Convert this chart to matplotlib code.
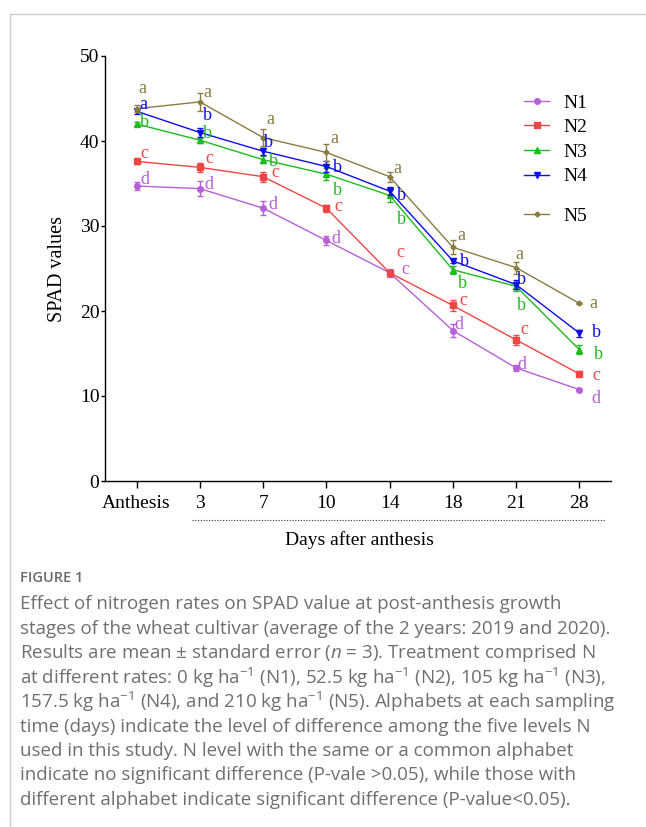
import matplotlib
matplotlib.use("Agg")
import matplotlib.pyplot as plt
from matplotlib.lines import Line2D
import numpy as np

plt.rcParams['mathtext.fontset'] = 'custom'
plt.rcParams['mathtext.rm'] = 'Open Sans'
plt.rcParams['mathtext.it'] = 'Open Sans:italic'

# ---------------- data ----------------
categories = ["Anthesis", "3", "7", "10", "14", "18", "21", "28"]
series_names = ["N1", "N2", "N3", "N4", "N5"]

n1 = [34.7, 34.4, 32.1, 28.3, 24.5, 17.7, 13.3, 10.75]
n2 = [37.6, 36.9, 35.8, 32.1, 24.5, 20.65, 16.6, 12.6]
n3 = [42.0, 40.1, 37.8, 36.1, 33.6, 24.85, 22.9, 15.45]
n4 = [43.5, 41.0, 38.8, 37.0, 34.1, 25.9, 23.1, 17.4]
n5 = [43.8, 44.6, 40.4, 38.65, 35.8, 27.5, 25.1, 20.9]

n1_err = [0.5, 0.85, 0.8, 0.5, 0.5, 0.8, 0.4, 0.1]
n2_err = [0.3, 0.5, 0.6, 0.4, 0.3, 0.7, 0.6, 0.3]
n3_err = [0.2, 0.3, 0.4, 0.7, 0.8, 0.5, 0.5, 0.5]
n4_err = [0.3, 0.5, 0.4, 0.6, 0.5, 0.2, 0.5, 0.4]
n5_err = [0.4, 1.05, 1.0, 1.0, 0.6, 0.8, 0.7, 0.1]

n1_letters = ["d", "d", "d", "d", "c", "d", "d", "d"]
n2_letters = ["c", "c", "c", "c", "c", "c", "c", "c"]
n3_letters = ["b", "b", "b", "b", "b", "b", "b", "b"]
n4_letters = ["a", "b", "b", "b", "b", "b", "b", "b"]
n5_letters = ["a", "a", "a", "a", "a", "a", "a", "a"]

# ---------------- styles / layout ----------------
colors = ["#b65fd8", "#f04545", "#1cbc1c", "#0c0cee", "#8a7b42"]
markers = ["o", "s", "^", "v", "D"]
msizes = [4.0, 4.8, 4.2, 4.2, 2.6]

# letter offsets in pixels (dx right, dy up) from each point to letter centre
n1_off = [(8, 9), (9, 6), (10, 6), (9, 4), (16, 3), (6, 8), (6, 6), (17, -7)]
n2_off = [(8, 8), (10, 9), (12, 4), (12, 2), (11, 20), (11, 5), (8, 10), (17, -2)]
n3_off = [(8, 4), (8, 9), (10, 1), (11, -14), (12, -22), (10, -11), (5, -17), (19, -3)]
n4_off = [(7, 7), (8, 19), (5, 11), (11, 1), (12, -2), (12, 2), (5, 7), (17, 3)]
n5_off = [(6, 20), (8, 9), (7, 18), (8, 14), (8, 8), (9, 12), (3, 13), (14, 0)]

W, H = 646, 827
fig = plt.figure(figsize=(W / 100, H / 100), dpi=100)

ax_left, ax_right, ax_bottom, ax_top = 105, 611, 481, 56
ax = fig.add_axes([ax_left / W, 1 - ax_bottom / H,
                   (ax_right - ax_left) / W, (ax_bottom - ax_top) / H])

serif = "Liberation Serif"
x = np.arange(len(categories))

all_vals = [n1, n2, n3, n4, n5]
all_err = [n1_err, n2_err, n3_err, n4_err, n5_err]
all_letters = [n1_letters, n2_letters, n3_letters, n4_letters, n5_letters]
all_off = [n1_off, n2_off, n3_off, n4_off, n5_off]

handles = []
for i, name in enumerate(series_names):
    c = colors[i]
    ax.errorbar(x, all_vals[i], yerr=all_err[i], color=c, lw=1.0,
                elinewidth=1.0, capsize=2.2, capthick=1.0,
                marker=markers[i], ms=msizes[i], mfc=c, mec=c, zorder=3 + i)
    h = Line2D([], [], color=c, lw=1.0, marker=markers[i],
               ms=msizes[i], mfc=c, mec=c)
    handles.append(h)
    for j in range(len(categories)):
        lt = all_letters[i][j]
        dx, dy = all_off[i][j]
        base = 4.5 if lt in "ac" else 6.8
        ax.annotate(lt, (x[j], all_vals[i][j]), xytext=(dx, dy - base),
                    textcoords="offset pixels", ha="center", va="baseline",
                    fontsize=13.0, family=serif, color=c, zorder=10)

ax.set_xlim(-0.5, 7.5)
ax.set_ylim(0, 50)
ax.set_yticks([0, 10, 20, 30, 40, 50])
ax.set_xticks(x)
ax.set_xticklabels(categories)
for lab in ax.get_xticklabels() + ax.get_yticklabels():
    lab.set_family(serif)
    lab.set_fontsize(14)
    lab.set_color("black")

ax.spines["top"].set_visible(False)
ax.spines["right"].set_visible(False)
for s in ("left", "bottom"):
    ax.spines[s].set_linewidth(1.0)
ax.tick_params(axis="x", direction="out", length=5, width=1.0, pad=5)
ax.tick_params(axis="y", direction="out", length=3, width=1.0, pad=1)

ax.set_ylabel("SPAD values", family=serif, fontsize=14.5)
ax.yaxis.set_label_coords((67 - ax_left) / (ax_right - ax_left), 0.5)
ax.set_xlabel("Days after anthesis", family=serif, fontsize=14)
ax.xaxis.set_label_coords((359 - ax_left) / (ax_right - ax_left),
                          -(540 - ax_bottom) / (ax_bottom - ax_top))
ax.xaxis.label.set_va("center")

# dotted line under tick labels
fig.add_artist(Line2D([192 / W, 605 / W], [1 - 520 / H] * 2, color="#333333",
                      lw=0.8, linestyle=(0, (1, 1.5))))

# legends
leg_kw = dict(frameon=False, prop={"family": serif, "size": 14},
              handlelength=1.3, handletextpad=0.75, borderpad=0,
              borderaxespad=0, labelspacing=0.36, loc="upper left",
              bbox_transform=fig.transFigure)
leg1 = ax.legend(handles[:4], series_names[:4],
                 bbox_to_anchor=(524 / W, 1 - 94 / H), **leg_kw)
ax.add_artist(leg1)
leg2 = ax.legend(handles[4:], series_names[4:],
                 bbox_to_anchor=(524 / W, 1 - 207 / H), **leg_kw)

# frame lines
fig.add_artist(Line2D([9.5 / W, 1], [1 - 14 / H] * 2, color="#cfcfcf", lw=1.0))
fig.add_artist(Line2D([9.5 / W] * 2, [0, 1 - 14 / H], color="#cfcfcf", lw=1.0))

# caption
cap_color = "#6f6f6f"
cap_font = ["Open Sans", "DejaVu Sans"]
fig.text(20 / W, 1 - 578 / H, "FIGURE 1", family=cap_font, fontsize=10.5,
         weight="semibold", color="#6a6a6a", va="center", ha="left")
caption_lines = [
    "Effect of nitrogen rates on SPAD value at post-anthesis growth",
    "stages of the wheat cultivar (average of the 2 years: 2019 and 2020).",
    "Results are mean \u00b1 standard error ($n$ = 3). Treatment comprised N",
    "at different rates: 0 kg ha$^{-1}$ (N1), 52.5 kg ha$^{-1}$ (N2), 105 kg ha$^{-1}$ (N3),",
    "157.5 kg ha$^{-1}$ (N4), and 210 kg ha$^{-1}$ (N5). Alphabets at each sampling",
    "time (days) indicate the level of difference among the five levels N",
    "used in this study. N level with the same or a common alphabet",
    "indicate no significant difference (P-vale >0.05), while those with",
    "different alphabet indicate significant difference (P-value<0.05).",
]
y0 = 604
for k, line in enumerate(caption_lines):
    fig.text(20 / W, 1 - (y0 + k * 24.5) / H, line, family=cap_font,
             fontsize=13.5, color=cap_color, va="center", ha="left")

fig.savefig("out.png", dpi=100)
